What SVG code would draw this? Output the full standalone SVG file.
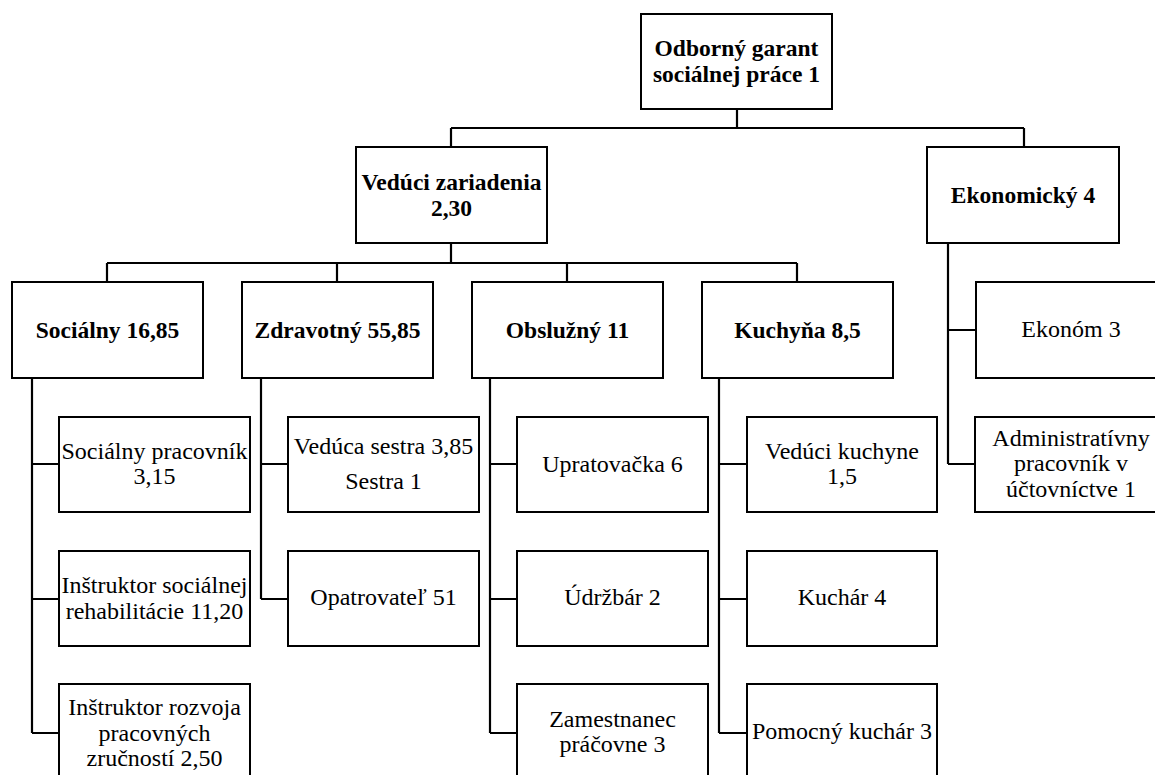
<svg xmlns="http://www.w3.org/2000/svg" width="1155" height="775" viewBox="0 0 1155 775">
<style>
.box{fill:#fff;stroke:#000;stroke-width:2}
.ln{fill:none;stroke:#000;stroke-width:2.2}
.t text{font-size:24px;fill:#000;text-anchor:middle}
.t .b{font-weight:bold;font-size:23.5px}
</style>
<rect width="1155" height="775" fill="#fff"/>
<g id="connectors">
<path class="ln" d="M737,109V128M451,128H1024M451,128V147M1024,128V147"/>
<path class="ln" d="M451,243V263M107,263H797M107,263V282M337,263V282M567,263V282M797,263V282"/>
<path class="ln" d="M32,378V733M32,464H59M32,599H59M32,733H59"/>
<path class="ln" d="M261,378V599M261,464H288M261,599H288"/>
<path class="ln" d="M490,378V733M490,464H517M490,599H517M490,733H517"/>
<path class="ln" d="M719,378V733M719,464H747M719,599H747M719,733H747"/>
<path class="ln" d="M948,243V464M948,330H976M948,464H975"/>
</g>
<g class="t" font-family="Liberation Serif, serif">
<g id="n-garant"><rect class="box" x="641" y="14" width="191" height="95"/><text class="b" x="736.5" y="56">Odborný garant</text><text class="b" x="736.5" y="82">sociálnej práce 1</text></g>
<g id="n-veduci"><rect class="box" x="356" y="147" width="191" height="96"/><text class="b" x="451.5" y="190">Vedúci zariadenia</text><text class="b" x="451.5" y="216">2,30</text></g>
<g id="n-ekonomicky"><rect class="box" x="927" y="147" width="192" height="96"/><text class="b" x="1023" y="203">Ekonomický 4</text></g>
<g id="n-socialny"><rect class="box" x="12" y="282" width="191" height="96"/><text class="b" x="107.5" y="338">Sociálny 16,85</text></g>
<g id="n-zdravotny"><rect class="box" x="242" y="282" width="191" height="96"/><text class="b" x="337.5" y="338">Zdravotný 55,85</text></g>
<g id="n-obsluzny"><rect class="box" x="472" y="282" width="191" height="96"/><text class="b" x="567.5" y="338">Obslužný 11</text></g>
<g id="n-kuchyna"><rect class="box" x="702" y="282" width="191" height="96"/><text class="b" x="797.5" y="338">Kuchyňa 8,5</text></g>
<g id="n-ekonom"><rect class="box" x="976" y="282" width="191" height="96"/><text x="1071" y="337">Ekonóm 3</text></g>
<g id="n-socprac"><rect class="box" x="59" y="417" width="191" height="95"/><text x="154.5" y="459">Sociálny pracovník</text><text x="154.5" y="484">3,15</text></g>
<g id="n-instr-soc"><rect class="box" x="59" y="551" width="191" height="95"/><text x="154.5" y="593">Inštruktor sociálnej</text><text x="154.5" y="619">rehabilitácie 11,20</text></g>
<g id="n-instr-roz"><rect class="box" x="59" y="684" width="191" height="96"/><text x="154.5" y="715">Inštruktor rozvoja</text><text x="154.5" y="741">pracovných</text><text x="154.5" y="766">zručností 2,50</text></g>
<g id="n-sestra"><rect class="box" x="288" y="417" width="191" height="95"/><text x="383.5" y="454">Vedúca sestra 3,85</text><text x="383.5" y="489">Sestra 1</text></g>
<g id="n-opatrovatel"><rect class="box" x="288" y="551" width="191" height="95"/><text x="383.5" y="605">Opatrovateľ 51</text></g>
<g id="n-upratovacka"><rect class="box" x="517" y="417" width="191" height="95"/><text x="612.5" y="472">Upratovačka 6</text></g>
<g id="n-udrzbar"><rect class="box" x="517" y="551" width="191" height="95"/><text x="612.5" y="605">Údržbár 2</text></g>
<g id="n-zamestnanec"><rect class="box" x="517" y="684" width="191" height="96"/><text x="612.5" y="727">Zamestnanec</text><text x="612.5" y="752">práčovne 3</text></g>
<g id="n-veduci-kuch"><rect class="box" x="747" y="417" width="190" height="95"/><text x="842" y="459">Vedúci kuchyne</text><text x="842" y="484">1,5</text></g>
<g id="n-kuchar"><rect class="box" x="747" y="551" width="190" height="95"/><text x="842" y="605">Kuchár 4</text></g>
<g id="n-pomocny"><rect class="box" x="747" y="684" width="190" height="96"/><text x="842" y="739">Pomocný kuchár 3</text></g>
<g id="n-admin"><rect class="box" x="975" y="417" width="191" height="95"/><text x="1071" y="446">Administratívny</text><text x="1071" y="471">pracovník v</text><text x="1071" y="497">účtovníctve 1</text></g>
</g>
</svg>
